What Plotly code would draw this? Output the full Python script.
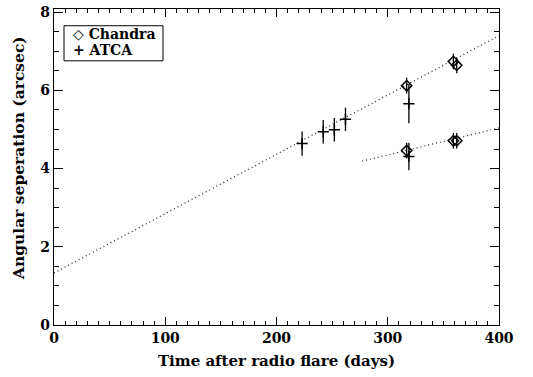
import plotly.graph_objects as go

# Chandra positions (days after flare, separation in arcsec, 1-sigma error)
chandra_t = [317, 359, 362, 317, 359, 362]
chandra_sep = [6.12, 6.74, 6.64, 4.46, 4.71, 4.71]
chandra_err = [0.2, 0.2, 0.2, 0.2, 0.2, 0.2]

# ATCA positions
atca_t = [223, 242, 252, 262, 319, 319]
atca_sep = [4.64, 4.94, 4.99, 5.26, 5.66, 4.31]
atca_err = [0.31, 0.30, 0.30, 0.30, 0.50, 0.35]

# Linear fits to the two components (endpoints)
fit1_t = [0, 400]
fit1_sep = [1.33, 7.40]
fit2_t = [277, 400]
fit2_sep = [4.19, 5.04]

legend_labels = ["◇ Chandra", "+ ATCA"]

FONT = "DejaVu Serif"
TICK_FONT = dict(family=FONT, size=14, color="black", weight="bold")
TITLE_FONT = dict(family=FONT, size=15, color="black", weight="bold")
LEGEND_FONT = dict(family=FONT, size=14, color="black", weight="bold")

fig = go.Figure()

for ft, fs in [(fit1_t, fit1_sep), (fit2_t, fit2_sep)]:
    fig.add_trace(go.Scatter(
        x=ft, y=fs, mode="lines",
        line=dict(color="#222222", width=1.2, dash="1px,3px"),
        showlegend=False, hoverinfo="skip"))

fig.add_trace(go.Scatter(
    x=chandra_t, y=chandra_sep, mode="markers", name="Chandra",
    marker=dict(symbol="diamond-open", size=8, color="black",
                line=dict(color="black", width=1.5)),
    error_y=dict(type="data", array=chandra_err, width=0,
                 thickness=1.3, color="black"),
    showlegend=False))

fig.add_trace(go.Scatter(
    x=atca_t, y=atca_sep, mode="markers", name="ATCA",
    marker=dict(symbol="cross-thin", size=8, color="black",
                line=dict(color="black", width=1.5)),
    error_y=dict(type="data", array=atca_err, width=0,
                 thickness=1.3, color="black"),
    showlegend=False))

# Legend: framed box with one text line per instrument
fig.add_shape(type="rect", xref="paper", yref="paper",
              x0=0.0225, x1=0.245, y0=0.836, y1=0.947,
              line=dict(color="black", width=1), fillcolor="white")
for label, ly in zip(legend_labels, [0.922, 0.869]):
    fig.add_annotation(
        xref="paper", yref="paper", x=0.038, y=ly,
        xanchor="left", yanchor="middle", text=label,
        showarrow=False, font=LEGEND_FONT)

# Rotated y-axis title
fig.add_annotation(
    xref="paper", yref="paper", x=-0.081, y=0.528,
    xanchor="center", yanchor="middle", textangle=-90,
    text="Angular seperation (arcsec)", showarrow=False,
    font=dict(family=FONT, size=15.5, color="black", weight="bold"))

axis_common = dict(
    showgrid=False, zeroline=False, showline=True, linecolor="black",
    linewidth=1.3, mirror="ticks", ticks="inside", tickcolor="black",
    tickwidth=1, tickfont=TICK_FONT, ticklabeloverflow="allow",
)

fig.update_xaxes(
    range=[0, 400], tickvals=[0, 100, 200, 300, 400], ticklen=8,
    minor=dict(dtick=10, tick0=0, ticklen=4, ticks="inside",
               tickcolor="black", tickwidth=1, showgrid=False),
    title=dict(text="Time after radio flare (days)", font=TITLE_FONT,
               standoff=10),
    **axis_common)
fig.update_yaxes(
    range=[0, 8.08], tickvals=[0, 2, 4, 6, 8], ticklen=9,
    minor=dict(dtick=0.5, tick0=0, ticklen=5, ticks="inside",
               tickcolor="black", tickwidth=1, showgrid=False),
    **axis_common)

fig.update_layout(
    width=533, height=377,
    margin=dict(l=54, r=34, t=4, b=52),
    paper_bgcolor="white", plot_bgcolor="white",
    font=dict(family=FONT, color="black"),
)

fig.write_html("out.html")
